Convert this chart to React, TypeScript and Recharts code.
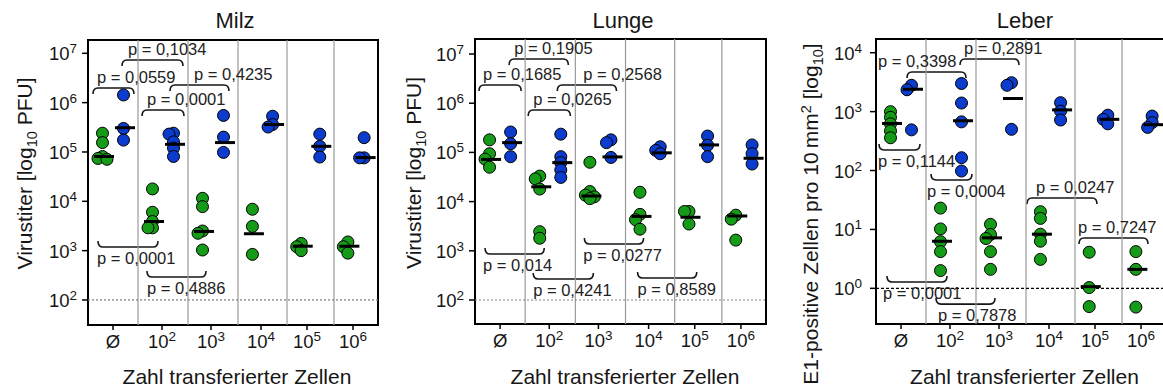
import React from 'react';
import {
  ScatterChart,
  Scatter,
  XAxis,
  YAxis,
  ReferenceLine,
  ReferenceArea,
  ReferenceDot,
} from 'recharts';

const FONT = '"Liberation Sans", Arial, Helvetica, sans-serif';
const GREEN = '#169b18';
const BLUE = '#0b3ccd';
const INK = '#161616';

// Number of transferred cells (x categories)
const CATEGORIES = ['Ø', '10^2', '10^3', '10^4', '10^5', '10^6'];

// ---- Milz: virus titre [PFU] per animal ----
const MILZ_GREEN = [
  [2.4e5, 1.55e5, 8.1e4, 7.4e4, 7.1e4],
  [1.78e4, 6.0e3, 3.9e3, 2.9e3, 2.9e3],
  [1.15e4, 7.8e3, 2.5e3, 2.25e3, 1.03e3],
  [6.9e3, 3.1e3, 8.4e2],
  [1.4e3, 1.2e3, 1.0e3],
  [1.5e3, 1.2e3, 8.9e2],
];
const MILZ_BLUE = [
  [1.43e6, 3.0e5, 1.74e5],
  [2.4e5, 2.3e5, 1.6e5, 1.2e5, 8.1e4],
  [5.5e5, 2.0e5, 9.8e4],
  [5.3e5, 3.6e5, 3.2e5],
  [2.3e5, 1.3e5, 7.9e4],
  [1.95e5, 7.6e4, 7.6e4],
];
const MILZ_GREEN_MEDIAN = [8.1e4, 3.9e3, 2.45e3, 2.2e3, 1.23e3, 1.23e3];
const MILZ_BLUE_MEDIAN = [3.1e5, 1.43e5, 1.55e5, 3.6e5, 1.3e5, 7.7e4];

// ---- Lunge: virus titre [PFU] per animal ----
const LUNGE_GREEN = [
  [1.8e5, 9.4e4, 7.3e4, 5.0e4],
  [3.3e4, 2.9e4, 1.8e4, 2.45e3, 1.8e3],
  [6.3e4, 1.6e4, 1.35e4, 1.25e4, 1.15e4],
  [1.55e4, 5.5e3, 4.3e3, 2.75e3],
  [6.3e3, 6.3e3, 3.5e3],
  [5.3e3, 4.4e3, 1.65e3],
];
const LUNGE_BLUE = [
  [2.6e5, 1.5e5, 8.2e4],
  [2.35e5, 8.2e4, 6.2e4, 4.4e4, 3.1e4],
  [1.8e5, 1.58e5, 7.9e4],
  [1.3e5, 1.1e5, 9.4e4],
  [2.15e5, 1.4e5, 8.2e4],
  [1.42e5, 9.4e4, 5.8e4],
];
const LUNGE_GREEN_MEDIAN = [7.2e4, 2.0e4, 1.3e4, 5.0e3, 4.8e3, 5.1e3];
const LUNGE_BLUE_MEDIAN = [1.58e5, 6.2e4, 8.1e4, 9.8e4, 1.42e5, 7.6e4];

// ---- Leber: E1-positive cells per 10 mm² ----
const LEBER_GREEN = [
  [1.0e3, 8.0e2, 6.2e2, 4.7e2, 3.6e2],
  [23, 10.2, 6.2, 4.2, 2.0],
  [12.2, 8.2, 7.0, 4.2, 2.1],
  [20, 15.4, 8.3, 6.3, 3.1],
  [4.1, 1.03, 0.49],
  [4.2, 2.1, 0.48],
];
const LEBER_BLUE = [
  [2.8e3, 2.35e3, 4.9e2],
  [3.0e3, 1.4e3, 6.7e2, 1.65e2, 98],
  [3.1e3, 2.8e3, 5.0e2],
  [1.42e3, 1.02e3, 7.2e2],
  [8.7e2, 7.4e2, 6.2e2],
  [8.4e2, 6.5e2, 5.4e2],
];
const LEBER_GREEN_MEDIAN = [6.3e2, 6.3, 7.2, 8.3, 1.07, 2.1];
const LEBER_BLUE_MEDIAN = [2.4e3, 7.0e2, 1.67e3, 1.07e3, 7.4e2, 6.0e2];

// ---- pairwise comparisons (bracket span on x, level on y) ----
type Bracket = {
  from: number;
  to: number;
  at: number;
  side: 'above' | 'below';
  text: string;
  textAt: number;
};

const MILZ_P: Bracket[] = [
  { from: 0.1, to: 0.92, at: 1.98e6, side: 'above', text: 'p = 0,0559', textAt: 0.18 },
  { from: 0.68, to: 1.9, at: 7.29e6, side: 'above', text: 'p = 0,1034', textAt: 0.8 },
  { from: 1.08, to: 1.92, at: 7.08e5, side: 'above', text: 'p = 0,0001', textAt: 1.18 },
  { from: 1.64, to: 2.82, at: 2.27e6, side: 'above', text: 'p = 0,4235', textAt: 2.12 },
  { from: 0.2, to: 1.4, at: 1186, side: 'below', text: 'p = 0,0001', textAt: 0.18 },
  { from: 1.18, to: 2.36, at: 292, side: 'below', text: 'p = 0,4886', textAt: 1.18 },
];

const LUNGE_P: Bracket[] = [
  { from: 0.08, to: 0.92, at: 2.34e6, side: 'above', text: 'p = 0,1685', textAt: 0.16 },
  { from: 0.68, to: 1.86, at: 7.91e6, side: 'above', text: 'p = 0,1905', textAt: 0.78 },
  { from: 1.06, to: 1.9, at: 7.28e5, side: 'above', text: 'p = 0,0265', textAt: 1.16 },
  { from: 1.64, to: 2.82, at: 2.34e6, side: 'above', text: 'p = 0,2568', textAt: 2.16 },
  { from: 0.2, to: 1.38, at: 861, side: 'below', text: 'p = 0,014', textAt: 0.16 },
  { from: 1.16, to: 2.36, at: 267, side: 'below', text: 'p = 0,4241', textAt: 1.16 },
  { from: 2.18, to: 3.36, at: 1374, side: 'below', text: 'p = 0,0277', textAt: 2.16 },
  { from: 3.24, to: 4.42, at: 280, side: 'below', text: 'p = 0,8589', textAt: 3.24 },
];

const LEBER_P: Bracket[] = [
  { from: 0.62, to: 1.8, at: 4.7e3, side: 'above', text: 'p = 0,3398', textAt: 0.04 },
  { from: 1.68, to: 2.86, at: 7.82e3, side: 'above', text: 'p = 0,2891', textAt: 1.76 },
  { from: 0.06, to: 0.88, at: 223, side: 'below', text: 'p = 0,1144', textAt: 0.04 },
  { from: 1.1, to: 1.92, at: 69, side: 'below', text: 'p = 0,0004', textAt: 1.02 },
  { from: 0.22, to: 1.42, at: 1.28, side: 'below', text: 'p = 0,0001', textAt: 0.14 },
  { from: 1.2, to: 2.38, at: 0.54, side: 'below', text: 'p = 0,7878', textAt: 1.24 },
  { from: 3.02, to: 4.42, at: 34.1, side: 'above', text: 'p = 0,0247', textAt: 3.2 },
  { from: 4.06, to: 5.44, at: 7.14, side: 'above', text: 'p = 0,7247', textAt: 4.04 },
];

// ---- x layout: group boundaries and tick positions (axis units) ----
const GROUP_EDGES = [0, 1, 2, 3, 3.98, 4.92, 5.8];
const CAT_POS = [0.5, 1.48, 2.46, 3.46, 4.38, 5.3];
const X_MAX = GROUP_EDGES[GROUP_EDGES.length - 1];

const DODGE_PX = 4.5;
const MIN_GAP_PX = 5.5;

type Pt = { x: number; y: number };

function seriesX(group: number, side: number) {
  const a = GROUP_EDGES[group];
  const b = GROUP_EDGES[group + 1];
  const w = b - a;
  return (a + b) / 2 + side * 0.21 * w * w;
}

// Simple beeswarm: points that would overlap in one column are pushed sideways
function swarm(groups: number[][], side: number, pxPerUnit: number, pxPerDecade: number): Pt[] {
  const step = DODGE_PX / pxPerUnit;
  const out: Pt[] = [];
  groups.forEach((vals, g) => {
    const base = seriesX(g, side);
    const placed: { dx: number; ly: number }[] = [];
    vals.forEach((v) => {
      const ly = Math.log10(v);
      for (const k of [0, -1, 1, -2, 2, -3, 3]) {
        const dx = k * step;
        const clash = placed.some(
          (q) => Math.abs(q.dx - dx) < step * 0.5 && Math.abs(q.ly - ly) * pxPerDecade < MIN_GAP_PX,
        );
        if (!clash) {
          placed.push({ dx, ly });
          out.push({ x: base + dx, y: v });
          break;
        }
      }
    });
  });
  return out;
}

function supText(label: string, size: number, supSize: number, shift: number) {
  const [base, exp] = label.split('^');
  if (exp === undefined) return <tspan fontSize={size}>{base}</tspan>;
  return (
    <>
      <tspan fontSize={size}>{base}</tspan>
      <tspan fontSize={supSize} dy={-shift}>
        {exp}
      </tspan>
    </>
  );
}

const XTick = (props: any) => {
  const { x, y, payload } = props;
  const idx = CAT_POS.findIndex((v) => Math.abs(v - payload.value) < 1e-6);
  const label = CATEGORIES[idx] ?? '';
  return (
    <text x={x} y={y + 16} textAnchor="middle" fill={INK} fontFamily={FONT}>
      {supText(label, 18.5, 13.5, 7)}
    </text>
  );
};

const YTick = (props: any) => {
  const { x, y, payload } = props;
  const exp = Math.round(Math.log10(payload.value));
  return (
    <text x={x} y={y + 7} textAnchor="end" fill={INK} fontFamily={FONT}>
      {supText(`10^${exp}`, 18.5, 13.5, 7)}
    </text>
  );
};

const dotShape = (color: string) => (props: any) => (
  <circle cx={props.cx} cy={props.cy} r={6} fill={color} stroke="#000" strokeWidth={1} />
);

const medianShape = (props: any) => (
  <line
    x1={props.cx - 10}
    x2={props.cx + 10}
    y1={props.cy}
    y2={props.cy}
    stroke="#000"
    strokeWidth={3}
  />
);

const bracketShape = (side: 'above' | 'below') => (props: any) => {
  const { x, y, width } = props;
  const h = 6;
  const r = 5;
  const s = side === 'above' ? 1 : -1;
  const d = `M${x},${y + s * h} Q${x},${y} ${x + r},${y} L${x + width - r},${y} Q${x + width},${y} ${x + width},${y + s * h}`;
  return <path d={d} fill="none" stroke={INK} strokeWidth={1.6} />;
};

const labelShape = (b: Bracket) => (props: any) => (
  <text
    x={props.cx}
    y={props.cy + (b.side === 'above' ? -5 : 17)}
    fontSize={16.5}
    fontFamily={FONT}
    fill="#222"
  >
    {b.text}
  </text>
);

type PanelProps = {
  left: number;
  yAxisWidth: number;
  top: number;
  bottom: number;
  rightGap: number;
  yDomain: [number, number];
  yTicks: number[];
  tickGap: number;
  green: number[][];
  blue: number[][];
  greenMedian: number[];
  blueMedian: number[];
  brackets: Bracket[];
  limit: number;
  limitColor: string;
  limitDash: string;
};

const CHART_W = 390;
const CHART_H = 388;
const X_AXIS_H = 30;

function Panel(p: PanelProps) {
  const plotW = CHART_W - p.yAxisWidth - p.rightGap;
  const plotH = p.bottom - p.top;
  const pxPerUnit = plotW / X_MAX;
  const pxPerDecade = plotH / (Math.log10(p.yDomain[1]) - Math.log10(p.yDomain[0]));

  const greenPts = swarm(p.green, -1, pxPerUnit, pxPerDecade);
  const bluePts = swarm(p.blue, 1, pxPerUnit, pxPerDecade);
  const medianPts: Pt[] = [
    ...p.greenMedian.map((v, g) => ({ x: seriesX(g, -1) + 0.03, y: v })),
    ...p.blueMedian.map((v, g) => ({ x: seriesX(g, 1) + 0.03, y: v })),
  ];

  return (
    <div style={{ position: 'absolute', left: p.left, top: 0 }}>
      <ScatterChart
        width={CHART_W}
        height={CHART_H}
        margin={{ top: p.top, right: p.rightGap, bottom: CHART_H - p.bottom - X_AXIS_H, left: 0 }}
      >
        <XAxis
          type="number"
          dataKey="x"
          domain={[0, X_MAX]}
          ticks={CAT_POS}
          interval={0}
          allowDataOverflow
          height={X_AXIS_H}
          tickSize={5}
          tickMargin={2}
          axisLine={false}
          tickLine={{ stroke: '#000', strokeWidth: 1.5 }}
          tick={<XTick />}
        />
        <YAxis
          type="number"
          dataKey="y"
          scale="log"
          domain={p.yDomain}
          ticks={p.yTicks}
          interval={0}
          allowDataOverflow
          width={p.yAxisWidth}
          tickSize={6}
          tickMargin={p.tickGap}
          axisLine={false}
          tickLine={{ stroke: '#000', strokeWidth: 1.5 }}
          tick={<YTick />}
        />
        {GROUP_EDGES.slice(1, -1).map((e) => (
          <ReferenceLine key={`sep-${e}`} x={e} stroke="#9a9a9a" strokeWidth={1.2} />
        ))}
        <ReferenceLine
          y={p.limit}
          stroke={p.limitColor}
          strokeDasharray={p.limitDash}
          strokeWidth={1.2}
        />
        <ReferenceArea
          x1={0}
          x2={X_MAX}
          y1={p.yDomain[0]}
          y2={p.yDomain[1]}
          fill="none"
          fillOpacity={0}
          stroke="#000"
          strokeWidth={2}
          ifOverflow="visible"
        />
        {p.brackets.map((b, i) => (
          <ReferenceArea
            key={`br-${i}`}
            x1={b.from}
            x2={b.to}
            y1={b.at}
            y2={b.at}
            shape={bracketShape(b.side)}
            ifOverflow="visible"
          />
        ))}
        <Scatter data={greenPts} shape={dotShape(GREEN)} isAnimationActive={false} />
        <Scatter data={bluePts} shape={dotShape(BLUE)} isAnimationActive={false} />
        <Scatter data={medianPts} shape={medianShape} isAnimationActive={false} />
        {p.brackets.map((b, i) => (
          <ReferenceDot
            key={`lb-${i}`}
            x={b.textAt}
            y={b.at}
            shape={labelShape(b)}
            ifOverflow="visible"
          />
        ))}
      </ScatterChart>
    </div>
  );
}

const TITER_TICKS = [1e2, 1e3, 1e4, 1e5, 1e6, 1e7];
const LIVER_TICKS = [1, 10, 100, 1000, 10000];

export default function App() {
  return (
    <div
      style={{
        position: 'absolute',
        left: 0,
        top: 0,
        width: 1163,
        height: 388,
        overflow: 'hidden',
        background: '#fff',
        fontFamily: FONT,
      }}
    >
      <Panel
        left={0}
        yAxisWidth={88}
        top={40}
        bottom={325}
        rightGap={12}
        yDomain={[31.1, 1.86e7]}
        yTicks={TITER_TICKS}
        tickGap={5}
        green={MILZ_GREEN}
        blue={MILZ_BLUE}
        greenMedian={MILZ_GREEN_MEDIAN}
        blueMedian={MILZ_BLUE_MEDIAN}
        brackets={MILZ_P}
        limit={100}
        limitColor="#808080"
        limitDash="2 2"
      />
      <Panel
        left={390}
        yAxisWidth={85}
        top={39}
        bottom={324}
        rightGap={14}
        yDomain={[32.5, 2.02e7]}
        yTicks={TITER_TICKS}
        tickGap={5}
        green={LUNGE_GREEN}
        blue={LUNGE_BLUE}
        greenMedian={LUNGE_GREEN_MEDIAN}
        blueMedian={LUNGE_BLUE_MEDIAN}
        brackets={LUNGE_P}
        limit={100}
        limitColor="#808080"
        limitDash="2 2"
      />
      <Panel
        left={780}
        yAxisWidth={96}
        top={39}
        bottom={324}
        rightGap={4}
        yDomain={[0.248, 1.71e4]}
        yTicks={LIVER_TICKS}
        tickGap={8}
        green={LEBER_GREEN}
        blue={LEBER_BLUE}
        greenMedian={LEBER_GREEN_MEDIAN}
        blueMedian={LEBER_BLUE_MEDIAN}
        brackets={LEBER_P}
        limit={1}
        limitColor="#000"
        limitDash="3 2"
      />
      <svg
        width={1163}
        height={388}
        style={{ position: 'absolute', left: 0, top: 0, pointerEvents: 'none' }}
        fontFamily={FONT}
        fill={INK}
      >
        <text x={235} y={28} textAnchor="middle" fontSize={22}>
          Milz
        </text>
        <text x={623} y={28} textAnchor="middle" fontSize={22}>
          Lunge
        </text>
        <text x={1025} y={28} textAnchor="middle" fontSize={22}>
          Leber
        </text>

        <text x={237} y={383.5} textAnchor="middle" fontSize={21}>
          Zahl transferierter Zellen
        </text>
        <text x={625} y={383.5} textAnchor="middle" fontSize={21}>
          Zahl transferierter Zellen
        </text>
        <text x={1024.5} y={383.5} textAnchor="middle" fontSize={21}>
          Zahl transferierter Zellen
        </text>

        <text x={32} y={173.5} transform="rotate(-90 32 173.5)" textAnchor="middle" fontSize={21}>
          Virustiter [log
          <tspan dy={5} fontSize={14.5}>
            10
          </tspan>
          <tspan dy={-5}> PFU]</tspan>
        </text>
        <text x={421} y={173} transform="rotate(-90 421 173)" textAnchor="middle" fontSize={21}>
          Virustiter [log
          <tspan dy={5} fontSize={14.5}>
            10
          </tspan>
          <tspan dy={-5}> PFU]</tspan>
        </text>
        <text x={818} y={214} transform="rotate(-90 818 214)" textAnchor="middle" fontSize={21}>
          E1-positive Zellen pro 10{'\u2009'}mm
          <tspan dy={-7} fontSize={14.5}>
            2
          </tspan>
          <tspan dy={7}> [log</tspan>
          <tspan dy={5} fontSize={14.5}>
            10
          </tspan>
          <tspan dy={-5}>]</tspan>
        </text>
      </svg>
    </div>
  );
}
